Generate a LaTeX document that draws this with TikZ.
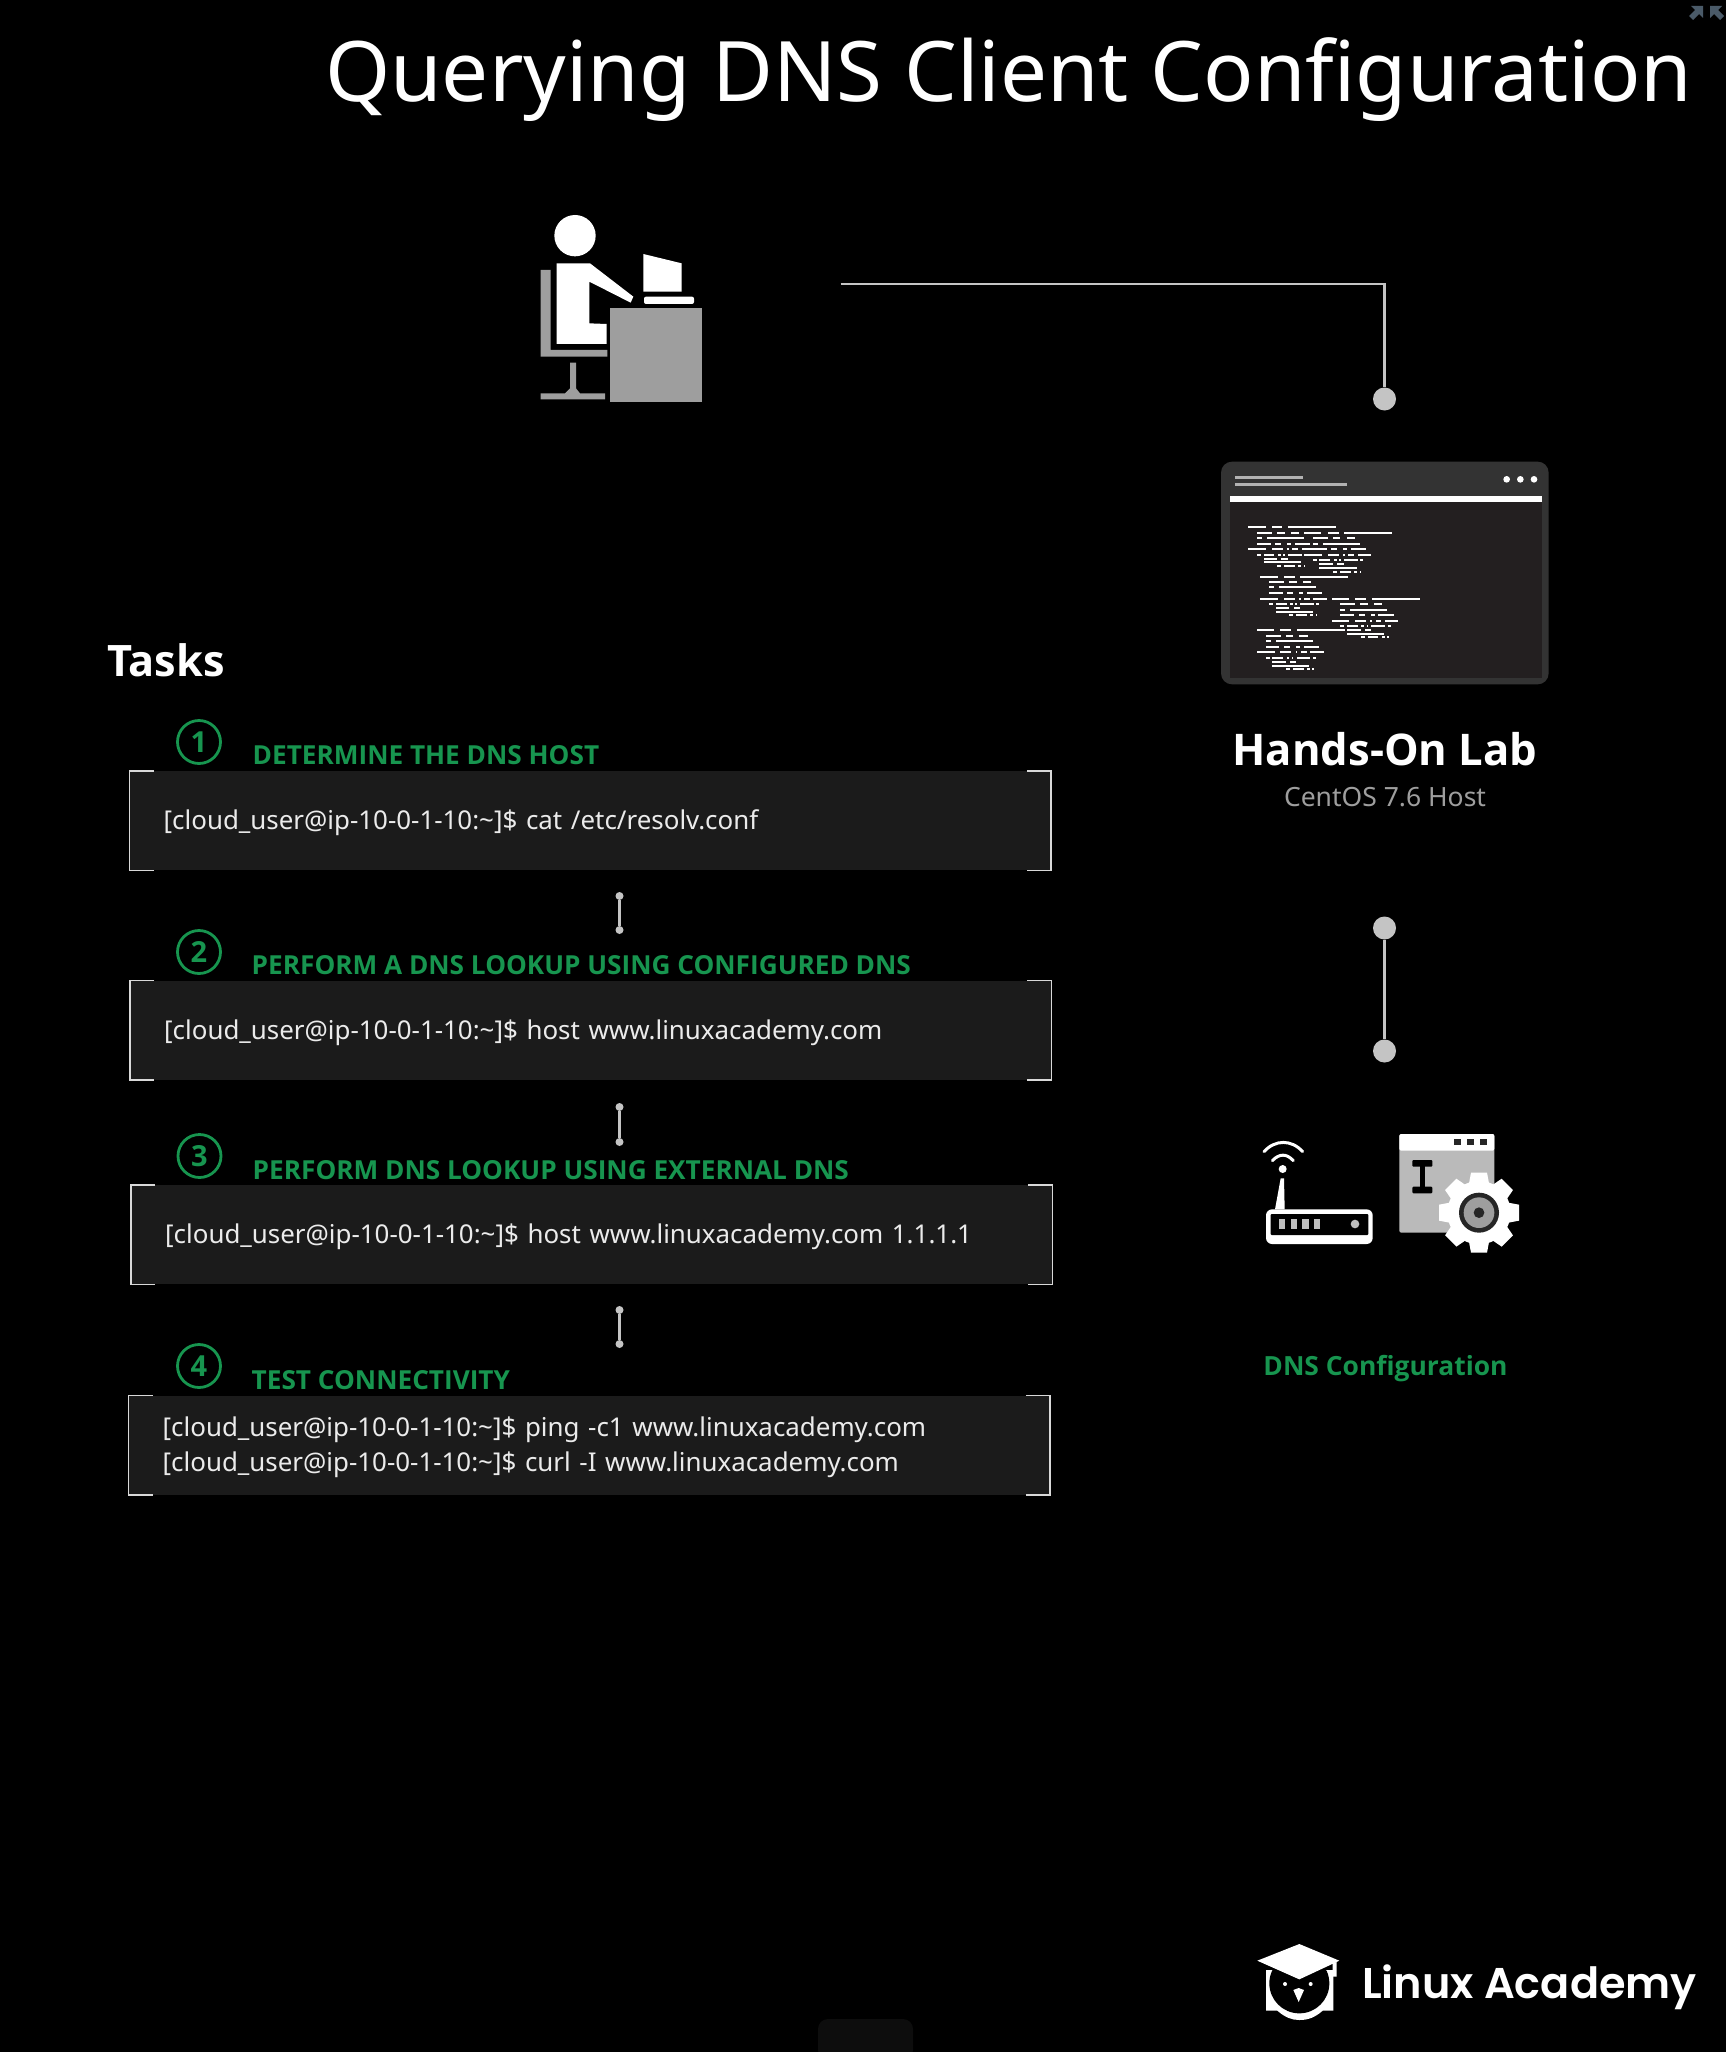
\documentclass[tikz,border=0pt]{standalone}
\usepackage{fontspec}
\setmainfont{Noto Sans}[BoldFont={Open Sans Bold}]
\newfontfamily\logofont{Poppins SemiBold}
\definecolor{labgreen}{HTML}{17954F}
\definecolor{boxgray}{HTML}{1B1B1B}
\definecolor{dotgray}{HTML}{C4C4C4}
\definecolor{deskgray}{HTML}{9E9E9E}
\definecolor{termgray}{HTML}{231F20}
\definecolor{cornergray}{HTML}{4A5A68}
\newcommand{\prompt}{[cloud\_user@ip-10-0-1-10:\textasciitilde]\$}
\tikzset{
	titletext/.style={anchor=base east,white,inner sep=0pt,font=\fontsize{83.5}{90}\selectfont},
	headtext/.style={anchor=base west,labgreen,inner sep=0pt,font=\fontsize{26.2}{30}\selectfont\bfseries},
	stepcircle/.style={circle,draw=labgreen,line width=2.8pt,minimum size=43pt,inner sep=0pt,text=labgreen,font=\fontsize{29}{30}\selectfont\bfseries},
	cmdbox/.style={anchor=north west,fill=boxgray,text=white!92!black,minimum height=99pt,text width=853pt,inner xsep=34pt,inner ysep=0pt,align=left,font=\fontsize{25.9}{35}\selectfont,execute at begin node=\rule{0pt}{24pt}},
	bracketline/.style={draw=white!85!black,line width=1.6pt},
	bigdot/.style={circle,fill=dotgray,minimum size=23pt,inner sep=0pt},
	smalldot/.style={circle,fill=dotgray,minimum size=8pt,inner sep=0pt},
	linkline/.style={draw=dotgray,line width=2.4pt},
}
\begin{document}
\begin{tikzpicture}[x=1pt,y=-1pt]
	% Hintergrund
	\fill[black] (0,0) rectangle (1726,2052);
	\useasboundingbox (0,0) rectangle (1726,2052);

	% Titel und Ecke oben rechts
	\node[titletext] (title) at (1692.5,102) {Querying DNS Client Configuration};
	\fill[cornergray] (1691,6) -- (1703,6) -- (1703,18) -- (1699,14) -- (1693,20) -- (1689,16) -- (1695,10) -- cycle;
	\fill[cornergray] (1722,6) -- (1710,6) -- (1710,18) -- (1714,14) -- (1720,20) -- (1724,16) -- (1718,10) -- cycle;
	\fill[white!5!black,rounded corners=10pt] (818,2060) rectangle (913,2019);

	% Person am Schreibtisch
	\begin{scope}[shift={(500,180)},scale=1/3]
		\fill[white] (225,167) circle (62);
		\fill[white] (170,250) -- (270,250) -- (400,350) -- (392,368) -- (268,305) -- (268,430) -- (320,432) -- (320,492) -- (170,492) -- cycle;
		\fill[deskgray] (122,270) -- (152,270) -- (152,510) -- (322,510) -- (322,530) -- (122,530) -- cycle;
		\fill[deskgray] (210,548) -- (228,548) -- (228,625) -- (240,640) -- (315,640) -- (315,658) -- (122,658) -- (122,640) -- (195,640) -- (210,625) -- cycle;
		\fill[deskgray] (330,385) rectangle (605,665);
		\fill[white] (430,222) -- (545,250) -- (545,335) -- (430,335) -- cycle;
		\fill[white,rounded corners=2pt] (432,350) rectangle (582,372);
	\end{scope}

	% Verbindung Person zum Lab
	\coordinate (deskend) at (840.5,284);
	\node[bigdot] (labdot) at (1384.5,399) {};
	\draw[linkline] (deskend) -| (labdot);

	% Terminal
	\begin{scope}[shift={(1200,450)},scale=1/3]
		\fill[white!20!black,rounded corners=11pt] (63,35) rectangle (1046,703);
		\fill[termgray] (90,157) rectangle (1027,684);
		\fill[white] (90,138) rectangle (1027,157);
		\fill[white!70!black] (106,78) rectangle (310,88);
		\fill[white!70!black] (106,98) rectangle (441,107);
		\foreach \x in {920,961,1002} {
			\fill[white] (\x,88) circle (10);
		}
		\foreach \y/\a/\b in {232/145/197,232/216/247,232/265/408,
			249/170/216,249/232/254,249/273/297,249/312/364,249/383/416,249/433/576,
			265/170/185,265/201/312,265/338/383,265/399/421,265/440/464,
			282/170/212,282/225/243,282/261/273,282/285/331,282/338/353,282/368/480,
			298/145/197,298/216/248,298/261/267,298/277/295,298/305/380,298/392/411,298/429/441,298/452/498,
			314/170/182,314/191/223,314/234/242,314/250/254,314/264/306,
			316/312/365,316/383/416,316/429/434,316/445/463,316/473/512,
			326/191/232,326/244/264,
			330/338/350,330/358/390,330/402/410,330/418/422,330/432/473,330/480/489,
			337/191/302,343/358/398,343/412/431,
			348/232/244,348/252/286,348/295/303,348/312/315,
			354/358/470,
			365/400/412,365/420/452,365/463/471,365/479/483,
			380/181/233,380/251/284,380/301/445,
			396/207/251,396/268/290,396/308/333,
			412/207/222,412/237/348,
			429/207/248,429/261/279,429/297/309,429/321/367,
			446/181/234,446/252/285,446/297/303,446/313/330,446/340/381,446/395/447,446/466/498,446/515/660,
			462/207/219,462/227/260,462/270/278,462/286/290,462/300/342,462/349/357,462/421/466,462/481/504,462/523/547,
			474/227/268,474/281/299,
			479/421/435,479/450/562,
			485/227/338,
			495/268/280,495/288/321,495/331/339,495/348/351,495/421/463,495/476/494,495/512/524,495/534/581,
			514/396/447,514/466/498,514/511/517,514/528/544,514/555/594,
			529/421/433,529/441/474,529/484/492,529/500/504,529/514/555,529/563/572,
			541/171/223,541/241/274,541/291/436,541/441/483,541/495/513,
			552/441/552,
			557/197/242,557/258/280,557/298/323,
			562/483/495,562/503/535,562/546/554,562/562/566,
			573/197/212,573/227/338,
			591/197/238,591/251/269,591/287/299,591/311/357,
			607/171/224,607/241/274,607/288/292,607/303/320,607/331/371,
			623/197/209,623/217/250,623/260/268,623/276/280,623/290/331,623/338/348,
			635/217/258,635/271/289,
			647/217/327,
			657/258/270,657/278/311,657/321/329,657/337/341} {
			\fill[white] (\a,\y-3) rectangle (\b,\y+3);
		}
	\end{scope}

	% Beschriftung rechts
	\node[anchor=base,white,inner sep=0pt,font=\fontsize{43.6}{50}\selectfont\bfseries] (labname) at (1385,765) {Hands-On Lab};
	\node[anchor=base,deskgray,inner sep=0pt,font=\fontsize{26.5}{30}\selectfont] (labhost) at (1385,806) {CentOS 7.6 Host};
	\node[anchor=base,labgreen,inner sep=0pt,font=\fontsize{26.4}{30}\selectfont\bfseries] (dnslabel) at (1385.5,1375) {DNS Configuration};

	\node[bigdot] (hosttop) at (1384.5,928) {};
	\node[bigdot] (hostbottom) at (1384.5,1051) {};
	\draw[linkline] (hosttop) -- (hostbottom);

	% Router
	\begin{scope}[shift={(1240,1110)},scale=1/3]
		\fill[white] (105,298) -- (122,205) -- (132,205) -- (134,298) -- cycle;
		\fill[white] (128,177) circle (12);
		\draw[white,line width=3pt,line cap=round] (97,152) .. controls (118,130) and (140,130) .. (160,152);
		\draw[white,line width=3pt,line cap=round] (72,125) .. controls (105,88) and (155,88) .. (188,125);
		\fill[white,rounded corners=6pt] (78,298) rectangle (398,402);
		\fill[black,rounded corners=1pt] (92,312) rectangle (385,375);
		\foreach \x in {116,152,187,222} {
			\fill[white!75!black] (\x,328) rectangle (\x+19,358);
		}
		\fill[white!75!black] (345,342) circle (13);
	\end{scope}

	% Fenster mit Zahnrad
	\begin{scope}[shift={(1240,1110)},scale=1/3]
		\fill[white!73!black,rounded corners=2pt] (478,72) rectangle (763,368);
		\fill[white,rounded corners=2pt] (478,72) rectangle (763,122);
		\foreach \x in {653,691,730} {
			\fill[black!85!white] (\x-10,86) rectangle (\x+10,106);
		}
		\fill[black,rounded corners=1pt] (517,150) rectangle (577,170);
		\fill[black] (540,165) rectangle (555,235);
		\fill[black,rounded corners=1pt] (517,230) rectangle (577,250);
		\fill[white] (717,308) circle (95);
		\foreach \w in {0,45,...,315} {
			\fill[white,shift={(717,308)},rotate=\w] (88,-30) -- (120,-24) -- (120,24) -- (88,30) -- cycle;
		}
		\fill[black!85!white] (717,308) circle (60);
		\fill[white!62!black] (717,308) circle (46);
		\fill[black!85!white] (717,308) circle (16);
	\end{scope}

	% Aufgaben
	\node[anchor=base west,white,inner sep=0pt,font=\fontsize{43.3}{50}\selectfont\bfseries] (tasks) at (107,676) {Tasks};

	\foreach \i/\cx/\cy/\hx/\hy/\head in {1/199/742/252.5/764/DETERMINE THE DNS HOST,2/199/952/251.5/974/PERFORM A DNS LOOKUP USING CONFIGURED DNS,3/199.5/1156/252.5/1179/PERFORM DNS LOOKUP USING EXTERNAL DNS,4/199/1366/251.5/1389/TEST CONNECTIVITY} {
		\node[stepcircle] (step\i) at (\cx,\cy) {\i};
		\node[headtext] (head\i) at (\hx,\hy) {\head};
	}

	\node[cmdbox] (box1) at (129.5,771) {\prompt{} cat /etc/resolv.conf};
	\node[cmdbox] (box2) at (130,980.5) {\prompt{} host www.linuxacademy.com};
	\node[cmdbox] (box3) at (131,1185) {\prompt{} host www.linuxacademy.com 1.1.1.1};
	\node[cmdbox] (box4) at (128.5,1395.5) {\prompt{} ping -c1 www.linuxacademy.com\\ \prompt{} curl -I www.linuxacademy.com};

	% Eckklammern um die Kommandos
	\foreach \b in {box1,box2,box3,box4} {
		\draw[bracketline] ([xshift=24pt]\b.north west) -- (\b.north west) -- (\b.south west) -- ([xshift=24pt]\b.south west);
		\draw[bracketline] ([xshift=-24pt]\b.north east) -- (\b.north east) -- (\b.south east) -- ([xshift=-24pt]\b.south east);
	}

	% kleine Verbinder zwischen den Aufgaben
	\foreach \i/\ya/\yb in {1/896/930,2/1107/1142,3/1310/1344} {
		\node[smalldot] (linktop\i) at (619.5,\ya) {};
		\node[smalldot] (linkbottom\i) at (619.5,\yb) {};
		\draw[linkline] (linktop\i) -- (linkbottom\i);
	}

	% Logo
	\begin{scope}[shift={(1240,1920)},scale=1/3]
		\fill[white] (78,150) -- (78,272) -- (112,272) .. controls (135,292) and (155,300) .. (178,300) .. controls (205,300) and (225,292) .. (248,272) -- (280,272) -- (280,150) -- cycle;
		\fill[black] (178,190) circle (90);
		\fill[white] (52,122) -- (178,72) -- (298,122) -- (178,178) -- cycle;
		\fill[white] (278,130) -- (290,125) -- (290,170) -- (278,170) -- cycle;
		\fill[white] (135,192) circle (6);
		\fill[white] (212,192) circle (6);
		\fill[white] (160,210) -- (176,204) -- (192,210) -- (176,246) -- cycle;
	\end{scope}
	\node[anchor=base west,white,inner sep=0pt,font=\logofont\fontsize{43}{50}\selectfont] (logotext) at (1362,1998) {Linux Academy};
\end{tikzpicture}
\end{document}
